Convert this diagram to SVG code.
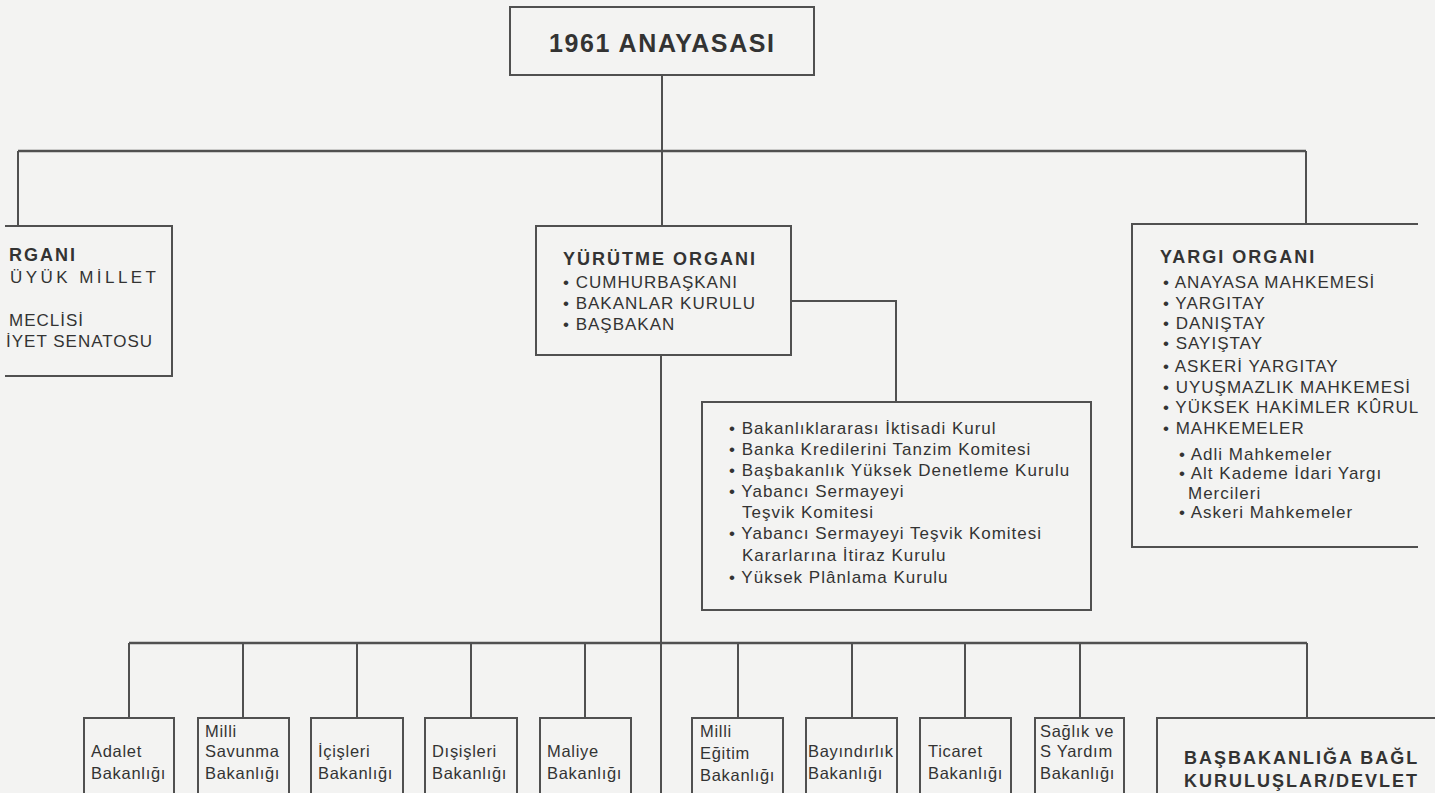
<svg xmlns="http://www.w3.org/2000/svg" width="1435" height="793" viewBox="0 0 1435 793">
<style>
.bg{fill:#f3f3f2}
.box{fill:none;stroke:#505050;stroke-width:2}
.ln{fill:none;stroke:#505050;stroke-width:2}
.bar{fill:none;stroke:#505050;stroke-width:2.6}
text{font-family:"Liberation Sans",Arial,Helvetica,sans-serif;fill:#333}
.t{font-size:25px;font-weight:bold}
.h{font-size:18px;font-weight:bold;letter-spacing:2px}
.i{font-size:17px;letter-spacing:1px}
.b{font-size:16.5px;letter-spacing:0.7px}
</style>
<rect class="bg" x="0" y="0" width="1435" height="793"/>
<g id="connectors">
<path class="ln" d="M662,75 V151"/>
<path class="bar" d="M18,151 H1306"/>
<path class="ln" d="M18,151 V226"/>
<path class="ln" d="M662,151 V226"/>
<path class="ln" d="M1306,151 V224"/>
<path class="ln" d="M661,355 V793"/>
<path class="ln" d="M791,301 H896 V402"/>
<path class="bar" d="M129,643 H1307"/>
<path class="ln" d="M129,643 V718 M243,643 V718 M357,643 V718 M471,643 V718 M585,643 V718 M738,643 V718 M852,643 V718 M965,643 V718 M1080,643 V718 M1307,643 V718"/>
</g>
<g id="anayasa">
<rect class="box" x="510" y="7" width="304" height="68"/>
<text class="t" x="549" y="52" textLength="225" lengthAdjust="spacing">1961 ANAYASASI</text>
</g>
<g id="yasama">
<path class="box" d="M5,226 H172 V376 H5"/>
<text class="h" x="9" y="261">RGANI</text>
<text class="i" x="10" y="283" textLength="147" lengthAdjust="spacing">ÜYÜK MİLLET</text>
<text class="i" x="9" y="326">MECLİSİ</text>
<text class="i" x="6" y="347">İYET SENATOSU</text>
</g>
<g id="yurutme">
<rect class="box" x="536" y="226" width="255" height="129"/>
<text class="h" x="563" y="265">YÜRÜTME ORGANI</text>
<text class="i" x="563" y="288">• CUMHURBAŞKANI</text>
<text class="i" x="563" y="309">• BAKANLAR KURULU</text>
<text class="i" x="563" y="330">• BAŞBAKAN</text>
</g>
<g id="kurullar">
<rect class="box" x="702" y="402" width="389" height="208"/>
<text class="i" x="729" y="434">• Bakanlıklararası İktisadi Kurul</text>
<text class="i" x="729" y="455">• Banka Kredilerini Tanzim Komitesi</text>
<text class="i" x="729" y="476">• Başbakanlık Yüksek Denetleme Kurulu</text>
<text class="i" x="729" y="497">• Yabancı Sermayeyi</text>
<text class="i" x="742" y="518">Teşvik Komitesi</text>
<text class="i" x="729" y="539">• Yabancı Sermayeyi Teşvik Komitesi</text>
<text class="i" x="742" y="561">Kararlarına İtiraz Kurulu</text>
<text class="i" x="729" y="583">• Yüksek Plânlama Kurulu</text>
</g>
<g id="yargi">
<path class="box" d="M1418,224 H1132 V547 H1418"/>
<text class="h" x="1160" y="263">YARGI ORGANI</text>
<text class="i" x="1163" y="288">• ANAYASA MAHKEMESİ</text>
<text class="i" x="1163" y="309">• YARGITAY</text>
<text class="i" x="1163" y="329">• DANIŞTAY</text>
<text class="i" x="1163" y="349">• SAYIŞTAY</text>
<text class="i" x="1163" y="372">• ASKERİ YARGITAY</text>
<text class="i" x="1163" y="393">• UYUŞMAZLIK MAHKEMESİ</text>
<text class="i" x="1163" y="413">• YÜKSEK HAKİMLER KÛRUL</text>
<text class="i" x="1163" y="434">• MAHKEMELER</text>
<text class="i" x="1179" y="460">• Adli Mahkemeler</text>
<text class="i" x="1179" y="479">• Alt Kademe İdari Yargı</text>
<text class="i" x="1188" y="499">Mercileri</text>
<text class="i" x="1179" y="518">• Askeri Mahkemeler</text>
</g>
<g id="adalet">
<rect class="box" x="84" y="718" width="90" height="90"/>
<text class="b" x="91" y="757">Adalet</text>
<text class="b" x="91" y="779">Bakanlığı</text>
</g>
<g id="savunma">
<rect class="box" x="198" y="718" width="91" height="90"/>
<text class="b" x="205" y="737">Milli</text>
<text class="b" x="205" y="757">Savunma</text>
<text class="b" x="205" y="779">Bakanlığı</text>
</g>
<g id="icisleri">
<rect class="box" x="311" y="718" width="92" height="90"/>
<text class="b" x="318" y="757">İçişleri</text>
<text class="b" x="318" y="779">Bakanlığı</text>
</g>
<g id="disisleri">
<rect class="box" x="425" y="718" width="92" height="90"/>
<text class="b" x="432" y="757">Dışişleri</text>
<text class="b" x="432" y="779">Bakanlığı</text>
</g>
<g id="maliye">
<rect class="box" x="540" y="718" width="91" height="90"/>
<text class="b" x="547" y="757">Maliye</text>
<text class="b" x="547" y="779">Bakanlığı</text>
</g>
<g id="egitim">
<rect class="box" x="692" y="718" width="91" height="90"/>
<text class="b" x="700" y="737">Milli</text>
<text class="b" x="700" y="759">Eğitim</text>
<text class="b" x="700" y="781">Bakanlığı</text>
</g>
<g id="bayindirlik">
<rect class="box" x="806" y="718" width="91" height="90"/>
<text class="b" x="808" y="757">Bayındırlık</text>
<text class="b" x="808" y="779">Bakanlığı</text>
</g>
<g id="ticaret">
<rect class="box" x="920" y="718" width="91" height="90"/>
<text class="b" x="928" y="757">Ticaret</text>
<text class="b" x="928" y="779">Bakanlığı</text>
</g>
<g id="saglik">
<rect class="box" x="1035" y="718" width="89" height="90"/>
<text class="b" x="1040" y="737">Sağlık ve</text>
<text class="b" x="1040" y="757">S Yardım</text>
<text class="b" x="1040" y="779">Bakanlığı</text>
</g>
<g id="basbakanlik">
<path class="box" d="M1440,718 H1157 V800"/>
<text class="h" x="1184" y="764">BAŞBAKANLIĞA BAĞL</text>
<text class="h" x="1184" y="787">KURULUŞLAR/DEVLET</text>
</g>
</svg>
